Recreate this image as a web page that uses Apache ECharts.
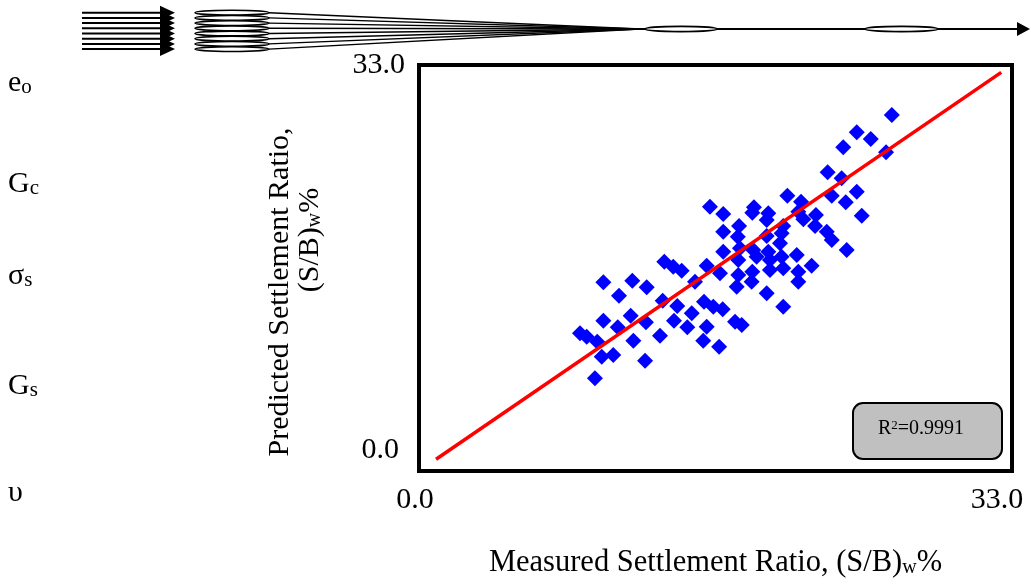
<!DOCTYPE html>
<html>
<head>
<meta charset="utf-8">
<script src="https://cdn.jsdelivr.net/npm/echarts@6.0.0/dist/echarts.min.js"></script>
<style>
  html, body { margin: 0; padding: 0; background: #fff; }
  #chart { width: 1031px; height: 584px; }
</style>
</head>
<body>
<div id="chart"></div>
<script>
'use strict';

// Measured vs predicted settlement ratio (S/B)w %
const measured = [
  26.31, 24.36, 25.14, 23.61, 25.99, 22.74, 23.52, 20.50, 22.97, 24.36, 23.75, 24.64, 21.26, 21.11, 22.09, 21.39, 22.04, 22.69, 22.97, 23.80,
  16.19, 16.93, 18.64, 18.55, 19.44, 19.35, 20.27, 20.18, 16.93, 17.81, 17.74, 19.35, 20.09, 16.93, 17.86, 18.60, 17.77, 18.79, 19.44, 19.53,
  20.18, 21.02, 16.01, 16.75, 17.77, 18.55, 19.53, 20.27, 21.11, 21.85, 15.36, 17.68, 18.51, 21.11, 19.35, 20.27, 13.65, 14.15, 14.62, 10.26,
  11.87, 12.67, 11.13, 13.56, 14.37, 15.86, 16.38, 16.90, 17.59, 17.96, 10.26, 11.78, 11.06, 12.63, 14.19, 15.18, 14.93, 16.01, 8.96, 9.33,
  9.92, 13.41, 11.93, 15.82, 16.70, 10.17, 10.81, 12.58, 9.79
];
const predicted = [
  28.94, 27.53, 26.98, 26.31, 25.90, 24.28, 23.79, 22.38, 22.38, 22.70, 21.84, 20.75, 21.89, 21.08, 20.81, 20.46, 19.91, 19.45, 18.78, 17.96,
  21.48, 20.89, 21.43, 20.99, 20.95, 20.40, 19.91, 19.32, 19.45, 19.91, 19.04, 19.10, 18.51, 17.82, 18.10, 17.96, 17.15, 17.42, 17.82, 17.15,
  17.42, 17.56, 16.69, 16.07, 15.93, 16.20, 16.34, 16.48, 16.20, 16.69, 15.39, 14.98, 15.39, 15.39, 14.44, 13.35, 17.01, 16.61, 16.28, 15.34,
  15.47, 14.93, 14.25, 13.84, 13.41, 13.76, 13.35, 13.14, 12.14, 11.87, 12.22, 12.62, 11.68, 12.09, 12.22, 12.82, 11.68, 11.73, 11.19, 10.92,
  10.51, 11.00, 10.59, 10.59, 10.10, 9.29, 9.43, 8.97, 7.53
];
// line of equality (measured = predicted)
const fitLine = [[0.95, 0.95], [32.4, 32.4]];
const axisTicks = [0, 33];
const r2Value = '0.9991';
const inputNames = [['e', 'o'], ['G', 'c'], ['σ', 's'], ['G', 's'], ['υ', '']];

const FONT = "'Liberation Serif', 'DejaVu Serif', serif";
const AX_MIN = axisTicks[0];
const AX_MAX = axisTicks[axisTicks.length - 1];

// layout of the little network sketch above the chart
const NET_ROWS = [12.7, 17.9, 23.1, 28.3, 33.5, 38.7, 43.9, 49.1];
const NET_JOIN_X = 640;
const NET_OUT_Y = 29;
const INPUT_TOPS = [68, 169, 261, 371, 478];

function subRich(size, subSize) {
  return {
    m: { fontFamily: FONT, fontSize: size, lineHeight: size, color: '#000' },
    s: { fontFamily: FONT, fontSize: subSize, lineHeight: 12, verticalAlign: 'bottom', color: '#000' }
  };
}

function networkGraphics() {
  const els = [];
  const line = (x1, y1, x2, y2, lw) => ({
    type: 'line', silent: true,
    shape: { x1, y1, x2, y2 },
    style: { stroke: '#000', lineWidth: lw }
  });
  const ellipse = (cx, cy, rx, ry) => ({
    type: 'ellipse', silent: true,
    shape: { cx, cy, rx, ry },
    style: { fill: '#fff', stroke: '#000', lineWidth: 1.6 }
  });
  const head = (x, y, len, half) => ({
    type: 'polygon', silent: true,
    shape: { points: [[x, y - half], [x + len, y], [x, y + half]] },
    style: { fill: '#000' }
  });

  NET_ROWS.forEach((y) => {
    els.push(line(82, y, 161, y, 2));
    els.push(line(269, y, NET_JOIN_X, NET_OUT_Y, 1.4));
  });
  NET_ROWS.forEach((y) => {
    els.push(head(160, y, 15, 7));
    els.push(ellipse(232, y, 37, 2.4));
  });
  els.push(line(NET_JOIN_X, NET_OUT_Y, 1018, NET_OUT_Y, 2));
  els.push(ellipse(681, NET_OUT_Y, 36, 2.6));
  els.push(ellipse(901.5, NET_OUT_Y, 36.5, 2.6));
  els.push(head(1017, NET_OUT_Y, 13, 7));
  return els;
}

function labelGraphics() {
  const els = [];
  inputNames.forEach((pair, i) => {
    els.push({
      type: 'text', silent: true, x: 8, y: INPUT_TOPS[i],
      style: {
        text: '{m|' + pair[0] + '}' + (pair[1] ? '{s|' + pair[1] + '}' : ''),
        rich: subRich(30, 21), align: 'left', verticalAlign: 'top'
      }
    });
  });

  // y axis title, two lines placed separately as in the original
  els.push({
    type: 'text', silent: true, x: 280, y: 292, rotation: Math.PI / 2,
    style: {
      text: 'Predicted Settlement Ratio,', fontFamily: FONT, fontSize: 30, fill: '#000',
      align: 'center', verticalAlign: 'middle'
    }
  });
  els.push({
    type: 'text', silent: true, x: 310, y: 240, rotation: Math.PI / 2,
    style: {
      text: '{m|(S/B)}{s|w}{m|%}', rich: subRich(30, 20),
      align: 'center', verticalAlign: 'middle'
    }
  });

  // R² box
  els.push({
    type: 'rect', silent: true,
    shape: { x: 853, y: 403, width: 149, height: 56, r: 10 },
    style: { fill: '#c0c0c0', stroke: '#000', lineWidth: 2 }
  });
  els.push({
    type: 'text', silent: true, x: 921, y: 429,
    style: {
      text: '{m|R}{p|2}{m|=' + r2Value + '}',
      rich: {
        m: { fontFamily: FONT, fontSize: 20, lineHeight: 20, color: '#000' },
        p: { fontFamily: FONT, fontSize: 13, lineHeight: 10, verticalAlign: 'top', color: '#000' }
      },
      align: 'center', verticalAlign: 'middle'
    }
  });
  return els;
}

const chart = echarts.init(document.getElementById('chart'), null, { renderer: 'canvas' });

chart.setOption({
  animation: false,
  backgroundColor: '#fff',
  grid: {
    left: 419, top: 65, width: 593, height: 406,
    show: true, borderColor: '#000', borderWidth: 4, backgroundColor: 'transparent',
    containLabel: false, outerBoundsMode: 'none'
  },
  xAxis: {
    type: 'value', min: AX_MIN, max: AX_MAX, interval: AX_MAX - AX_MIN,
    axisLine: { show: false }, axisTick: { show: false }, splitLine: { show: false },
    axisLabel: {
      margin: 14,
      formatter: (v) => (v >= AX_MAX ? '{r|' : '{l|') + v.toFixed(1) + '}',
      rich: {
        l: { fontFamily: FONT, fontSize: 30, color: '#000', padding: [0, 8, 0, 0] },
        r: { fontFamily: FONT, fontSize: 30, color: '#000', padding: [0, 30, 0, 0] }
      }
    },
    name: 'Measured Settlement Ratio, (S/B){s|w}%',
    nameLocation: 'middle', nameGap: 77, nameMoveOverlap: false,
    nameTextStyle: {
      fontFamily: FONT, fontSize: 30.5, lineHeight: 30, color: '#000',
      rich: subRich(30.5, 20)
    }
  },
  yAxis: {
    type: 'value', min: AX_MIN, max: AX_MAX, interval: AX_MAX - AX_MIN,
    axisLine: { show: false }, axisTick: { show: false }, splitLine: { show: false },
    axisLabel: {
      margin: 14,
      formatter: (v) => (v <= AX_MIN ? '{z|' : '{t|') + v.toFixed(1) + '}',
      rich: {
        z: { fontFamily: FONT, fontSize: 30, color: '#000', padding: [0, 6, 42, 0] },
        t: { fontFamily: FONT, fontSize: 30, color: '#000' }
      }
    }
  },
  series: [
    {
      type: 'line', data: fitLine, symbol: 'none', silent: true,
      lineStyle: { color: '#ff0000', width: 3.5 }
    },
    {
      type: 'scatter', symbol: 'diamond', symbolSize: 16,
      itemStyle: { color: '#0000ff', opacity: 1 },
      data: measured.map((x, i) => [x, predicted[i]])
    }
  ],
  graphic: networkGraphics().concat(labelGraphics())
});

window.addEventListener('resize', () => chart.resize());
</script>
</body>
</html>
